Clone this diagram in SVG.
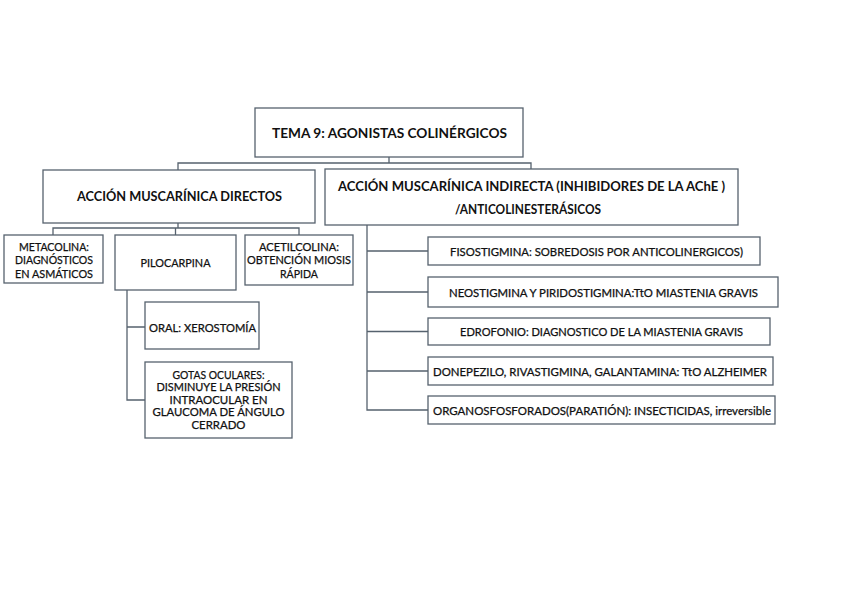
<svg xmlns="http://www.w3.org/2000/svg" width="848" height="599" viewBox="0 0 848 599">
<style>
rect.box{fill:#ffffff;stroke:#56626e;stroke-width:1.3}
.conn path{fill:none;stroke:#56626e;stroke-width:1.3}
text{font-family:Lato,"Liberation Sans",sans-serif;fill:#111111;text-anchor:middle;dominant-baseline:central}
.h{font-weight:bold;font-size:13px}
.s{font-size:11px;stroke:#111111;stroke-width:0.25}
.r{font-size:10.5px;stroke:#111111;stroke-width:0.25}
</style>
<rect width="848" height="599" fill="#ffffff"/>
<g class="conn">
<path d="M389 157V163M178 170V163H531V169"/>
<path d="M178 223V228M53 235V228H299V235M175.5 228V235"/>
<path d="M127 290V400H145M127 327H145"/>
<path d="M367 225V410H428M367 251H428M367 292H428M367 331.5H428M367 371H428"/>
</g>
<g id="root"><rect class="box" x="255" y="108" width="268" height="49"/><text class="h" x="389.5" y="132.5" textLength="235" lengthAdjust="spacingAndGlyphs">TEMA 9: AGONISTAS COLINÉRGICOS</text></g>
<g id="directos"><rect class="box" x="43" y="170" width="272" height="53"/><text class="h" x="179.5" y="195.5" textLength="205" lengthAdjust="spacingAndGlyphs">ACCIÓN MUSCARÍNICA DIRECTOS</text></g>
<g id="indirecta"><rect class="box" x="325" y="169" width="413" height="56"/><text class="h" x="531.5" y="186" textLength="387" lengthAdjust="spacingAndGlyphs">ACCIÓN MUSCARÍNICA INDIRECTA (INHIBIDORES DE LA AChE )</text><text class="h" x="528" y="209" textLength="146" lengthAdjust="spacingAndGlyphs">/ANTICOLINESTERÁSICOS</text></g>
<g id="metacolina"><rect class="box" x="4" y="235" width="99" height="48"/><text class="s" x="54" y="246" textLength="70" lengthAdjust="spacingAndGlyphs">METACOLINA:</text><text class="s" x="54" y="259.5" textLength="78" lengthAdjust="spacingAndGlyphs">DIAGNÓSTICOS</text><text class="s" x="54" y="273" textLength="78" lengthAdjust="spacingAndGlyphs">EN ASMÁTICOS</text></g>
<g id="pilocarpina"><rect class="box" x="115" y="235" width="121" height="55"/><text class="s" x="175.5" y="262.5" textLength="70" lengthAdjust="spacingAndGlyphs">PILOCARPINA</text></g>
<g id="acetilcolina"><rect class="box" x="245" y="235" width="108" height="50"/><text class="s" x="299" y="246" textLength="80" lengthAdjust="spacingAndGlyphs">ACETILCOLINA:</text><text class="s" x="299" y="259.5" textLength="104" lengthAdjust="spacingAndGlyphs">OBTENCIÓN MIOSIS</text><text class="s" x="299" y="273" textLength="38" lengthAdjust="spacingAndGlyphs">RÁPIDA</text></g>
<g id="oral"><rect class="box" x="145" y="302" width="114" height="47"/><text class="s" x="202.5" y="327" textLength="107" lengthAdjust="spacingAndGlyphs">ORAL: XEROSTOMÍA</text></g>
<g id="gotas"><rect class="box" x="145" y="362" width="147" height="76"/><text class="s" x="218.5" y="374" textLength="92" lengthAdjust="spacingAndGlyphs">GOTAS OCULARES:</text><text class="s" x="218.5" y="386.5" textLength="124" lengthAdjust="spacingAndGlyphs">DISMINUYE LA PRESIÓN</text><text class="s" x="218.5" y="399" textLength="98" lengthAdjust="spacingAndGlyphs">INTRAOCULAR EN</text><text class="s" x="218.5" y="411.5" textLength="132" lengthAdjust="spacingAndGlyphs">GLAUCOMA DE ÁNGULO</text><text class="s" x="218.5" y="424" textLength="54" lengthAdjust="spacingAndGlyphs">CERRADO</text></g>
<g id="fisostigmina"><rect class="box" x="428" y="237" width="332" height="28"/><text class="r" x="596.5" y="251.5" textLength="293" lengthAdjust="spacingAndGlyphs">FISOSTIGMINA: SOBREDOSIS POR ANTICOLINERGICOS)</text></g>
<g id="neostigmina"><rect class="box" x="428" y="277" width="350" height="30"/><text class="r" x="603.5" y="292.5" textLength="309" lengthAdjust="spacingAndGlyphs">NEOSTIGMINA Y PIRIDOSTIGMINA:TtO MIASTENIA GRAVIS</text></g>
<g id="edrofonio"><rect class="box" x="428" y="318" width="342" height="27"/><text class="r" x="601.5" y="332" textLength="283" lengthAdjust="spacingAndGlyphs">EDROFONIO: DIAGNOSTICO DE LA MIASTENIA GRAVIS</text></g>
<g id="donepezilo"><rect class="box" x="428" y="357" width="345" height="28"/><text class="r" x="600" y="371.5" textLength="334" lengthAdjust="spacingAndGlyphs">DONEPEZILO, RIVASTIGMINA, GALANTAMINA: TtO ALZHEIMER</text></g>
<g id="organosfosforados"><rect class="box" x="428" y="396" width="347" height="28"/><text class="r" x="602" y="410.5" textLength="338" lengthAdjust="spacingAndGlyphs">ORGANOSFOSFORADOS(PARATIÓN): INSECTICIDAS, irreversible</text></g>
</svg>
